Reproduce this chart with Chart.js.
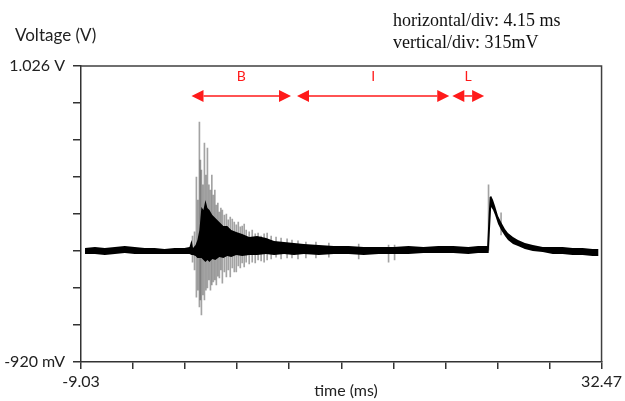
<!DOCTYPE html>
<html>
<head>
<meta charset="utf-8">
<script src="https://cdn.jsdelivr.net/npm/chart.js@4.4.1/dist/chart.umd.min.js"></script>
<style>
  html, body { margin: 0; padding: 0; background: #fff; }
  canvas { display: block; }
</style>
</head>
<body>
<canvas id="scopeChart" width="625" height="401"></canvas>
<script>
// axis range (8 vertical, 10 horizontal divisions)
const X_MIN = -9.03;
const X_MAX = 32.47;
const Y_MIN = -0.920;
const Y_MAX = 1.026;
const xTicks = [-9.03, -4.88, -0.73, 3.42, 7.57, 11.72, 15.87, 20.02, 24.17, 28.32, 32.47];
const xTickLabels = ['-9.03', '', '', '', '', '', '', '', '', '', '32.47'];
const yTicks = [-0.920, -0.677, -0.433, -0.190, 0.053, 0.297, 0.540, 0.783, 1.026];
const yTickLabels = ['-920 mV', '', '', '', '', '', '', '', '1.026 V'];

// dense trace band: time (ms), upper and lower edge (V)
const traceT = [-8.71, -7.92, -7.13, -6.33, -5.54, -4.75, -3.95, -3.16, -2.37, -1.57,
  -0.78, -0.38, -0.22, -0.10, 0.10, 0.25, 0.41, 0.57, 0.73, 0.89,
  1.05, 1.21, 1.44, 1.68, 2.00, 2.32, 2.63, 2.95, 3.35, 3.82,
  4.38, 5.01, 5.73, 6.36, 7.16, 7.95, 8.74, 9.93, 11.12, 12.31,
  13.51, 14.70, 15.89, 17.08, 18.27, 19.46, 20.65, 21.84, 22.63, 23.35,
  23.47, 23.55, 23.67, 23.82, 23.98, 24.22, 24.46, 24.77, 25.01, 25.41,
  25.81, 26.36, 26.99, 27.78, 28.58, 29.37, 30.16, 30.96, 31.75, 32.23];
const traceHi = [-0.170, -0.164, -0.170, -0.164, -0.157, -0.164, -0.170, -0.170, -0.177, -0.170,
  -0.170, -0.164, -0.118, -0.170, -0.151, -0.118, -0.052, 0.099, 0.079, 0.145,
  0.092, 0.079, 0.046, 0.027, 0.000, -0.026, -0.026, -0.052, -0.065, -0.078,
  -0.098, -0.092, -0.105, -0.124, -0.131, -0.138, -0.144, -0.151, -0.157, -0.157,
  -0.164, -0.164, -0.164, -0.157, -0.164, -0.157, -0.157, -0.164, -0.157, -0.157,
  0.046, 0.165, 0.171, 0.145, 0.105, 0.040, 0.000, -0.046, -0.072, -0.098,
  -0.118, -0.138, -0.151, -0.164, -0.164, -0.164, -0.170, -0.170, -0.177, -0.177];
const traceLo = [-0.210, -0.210, -0.216, -0.210, -0.203, -0.210, -0.210, -0.210, -0.210, -0.210,
  -0.210, -0.210, -0.216, -0.216, -0.223, -0.236, -0.236, -0.236, -0.249, -0.263,
  -0.249, -0.263, -0.243, -0.249, -0.230, -0.236, -0.223, -0.230, -0.216, -0.223,
  -0.216, -0.216, -0.210, -0.216, -0.210, -0.216, -0.210, -0.216, -0.210, -0.210,
  -0.216, -0.210, -0.210, -0.210, -0.203, -0.203, -0.203, -0.210, -0.203, -0.203,
  -0.203, -0.085, 0.099, 0.079, 0.046, -0.013, -0.052, -0.092, -0.118, -0.144,
  -0.157, -0.177, -0.190, -0.197, -0.210, -0.210, -0.216, -0.216, -0.223, -0.223];

// thin ringing spikes: time (ms), top and bottom (V)
const spikeT = [-0.14, 0.02, 0.17, 0.29, 0.41, 0.49, 0.57, 0.69, 0.81, 0.93,
  1.05, 1.17, 1.29, 1.40, 1.52, 1.64, 1.76, 1.88, 2.00, 2.12,
  2.24, 2.40, 2.56, 2.71, 2.87, 3.03, 3.19, 3.35, 3.51, 3.67,
  3.82, 3.98, 4.14, 4.38, 4.62, 4.86, 5.09, 5.33, 5.57, 5.81,
  6.13, 6.52, 6.92, 7.40, 7.79, 8.27, 8.90, 9.70, 10.73, 13.11,
  15.49, 15.97, 23.46, 24.46];
const spikeHi = [-0.092, -0.065, 0.296, 0.145, 0.658, 0.408, 0.342, 0.244, 0.520, 0.309,
  0.487, 0.244, 0.211, 0.309, 0.178, 0.211, 0.112, 0.125, 0.066, 0.092,
  0.079, 0.046, 0.053, 0.014, 0.033, 0.020, 0.000, -0.019, 0.000, -0.032,
  -0.026, -0.013, -0.052, -0.065, -0.052, -0.078, -0.072, -0.092, -0.078, -0.072,
  -0.092, -0.098, -0.105, -0.111, -0.118, -0.124, -0.131, -0.131, -0.138, -0.144,
  -0.151, -0.151, 0.244, 0.060];
const spikeLo = [-0.263, -0.315, -0.493, -0.447, -0.558, -0.512, -0.611, -0.479, -0.512, -0.447,
  -0.433, -0.381, -0.447, -0.414, -0.394, -0.381, -0.414, -0.355, -0.368, -0.315,
  -0.401, -0.328, -0.361, -0.315, -0.361, -0.302, -0.328, -0.328, -0.289, -0.302,
  -0.269, -0.295, -0.263, -0.276, -0.263, -0.269, -0.249, -0.256, -0.263, -0.249,
  -0.243, -0.230, -0.243, -0.236, -0.236, -0.243, -0.236, -0.236, -0.230, -0.243,
  -0.263, -0.249, -0.184, -0.085];

// phase markers B / I / L (ms)
const phaseNames = ['B', 'I', 'L'];
const phaseStart = [-0.22, 8.19, 20.57];
const phaseEnd = [7.71, 20.33, 23.11];
const phaseArrowV = 0.829;
const phaseLabelV = 0.954;

const sansFont = 'Lato, "Open Sans", sans-serif';

function drawArrow(ctx, x1, x2, y) {
  const head = 12;
  ctx.beginPath();
  ctx.moveTo(x1 + head, y);
  ctx.lineTo(x2 - head, y);
  ctx.stroke();
  ctx.beginPath();
  ctx.moveTo(x1, y);
  ctx.lineTo(x1 + head, y - 6);
  ctx.lineTo(x1 + head, y + 6);
  ctx.closePath();
  ctx.fill();
  ctx.beginPath();
  ctx.moveTo(x2, y);
  ctx.lineTo(x2 - head, y - 6);
  ctx.lineTo(x2 - head, y + 6);
  ctx.closePath();
  ctx.fill();
}

const decorPlugin = {
  id: 'decor',
  afterDraw(chart) {
    const ctx = chart.ctx;
    const area = chart.chartArea;
    const xs = chart.scales.x;
    const ys = chart.scales.y;
    ctx.save();

    // frame on top and right
    ctx.strokeStyle = '#404040';
    ctx.lineWidth = 1.5;
    ctx.beginPath();
    ctx.moveTo(area.left, area.top);
    ctx.lineTo(area.right, area.top);
    ctx.lineTo(area.right, area.bottom);
    ctx.stroke();

    // phase arrows
    ctx.strokeStyle = '#ff1a1a';
    ctx.fillStyle = '#ff1a1a';
    ctx.lineWidth = 1.5;
    ctx.font = '14px ' + sansFont;
    ctx.textAlign = 'center';
    ctx.textBaseline = 'middle';
    phaseNames.forEach((name, i) => {
      const x1 = xs.getPixelForValue(phaseStart[i]);
      const x2 = xs.getPixelForValue(phaseEnd[i]);
      drawArrow(ctx, x1, x2, ys.getPixelForValue(phaseArrowV));
      ctx.fillText(name, (x1 + x2) / 2, ys.getPixelForValue(phaseLabelV));
    });

    // axis titles
    ctx.fillStyle = '#222';
    ctx.font = '17px ' + sansFont;
    ctx.textAlign = 'left';
    ctx.fillText('Voltage (V)', 15, 36);
    ctx.textAlign = 'center';
    ctx.font = '16px ' + sansFont;
    ctx.fillText('time (ms)', 346, 391);

    // scope settings
    ctx.fillStyle = '#111';
    ctx.font = '18px "Liberation Serif", "DejaVu Serif", serif';
    ctx.textAlign = 'left';
    ctx.textBaseline = 'alphabetic';
    ctx.fillText('horizontal/div: 4.15 ms', 393, 26);
    ctx.fillText('vertical/div: 315mV', 393, 48);
    ctx.restore();
  }
};

const axisStyle = {
  border: { display: true, color: '#333', width: 1.5 },
  grid: { drawOnChartArea: false, drawTicks: true, offset: false, color: '#333', lineWidth: 1.5 },
};

new Chart(document.getElementById('scopeChart'), {
  type: 'line',
  data: {
    datasets: [
      {
        label: 'upper',
        data: traceT.map((t, i) => ({ x: t, y: traceHi[i] })),
        borderColor: '#000',
        borderWidth: 0,
        pointRadius: 0,
        tension: 0,
        fill: false,
        order: 1,
      },
      {
        label: 'lower',
        data: traceT.map((t, i) => ({ x: t, y: traceLo[i] })),
        borderColor: '#000',
        backgroundColor: '#000',
        borderWidth: 0,
        pointRadius: 0,
        tension: 0,
        fill: '-1',
        order: 1,
      },
      {
        type: 'bar',
        label: 'spikes',
        data: spikeT.map((t, i) => ({ x: t, y: [spikeLo[i], spikeHi[i]] })),
        backgroundColor: 'rgba(0,0,0,0.36)',
        borderWidth: 0,
        barThickness: 1,
        order: 2,
      },
    ],
  },
  options: {
    responsive: false,
    animation: false,
    devicePixelRatio: 1,
    layout: { padding: { top: 66, right: 21, left: 0, bottom: 0 } },
    plugins: { legend: { display: false }, tooltip: { enabled: false } },
    scales: {
      x: {
        type: 'linear',
        min: X_MIN,
        max: X_MAX,
        offset: false,
        ...axisStyle,
        grid: { ...axisStyle.grid, tickLength: 7 },
        afterBuildTicks: (scale) => { scale.ticks = xTicks.map((v) => ({ value: v })); },
        afterFit: (scale) => { scale.height = 39; },
        ticks: {
          autoSkip: false,
          maxRotation: 0,
          padding: 3,
          color: '#222',
          font: { family: sansFont, size: 16 },
          callback: (value, index) => xTickLabels[index],
        },
      },
      y: {
        type: 'linear',
        min: Y_MIN,
        max: Y_MAX,
        ...axisStyle,
        grid: { ...axisStyle.grid, tickLength: 8 },
        afterBuildTicks: (scale) => { scale.ticks = yTicks.map((v) => ({ value: v })); },
        afterFit: (scale) => { scale.width = 81; },
        ticks: {
          autoSkip: false,
          padding: 8,
          color: '#222',
          font: { family: sansFont, size: 16 },
          callback: (value, index) => yTickLabels[index],
        },
      },
    },
  },
  plugins: [decorPlugin],
});
</script>
</body>
</html>
